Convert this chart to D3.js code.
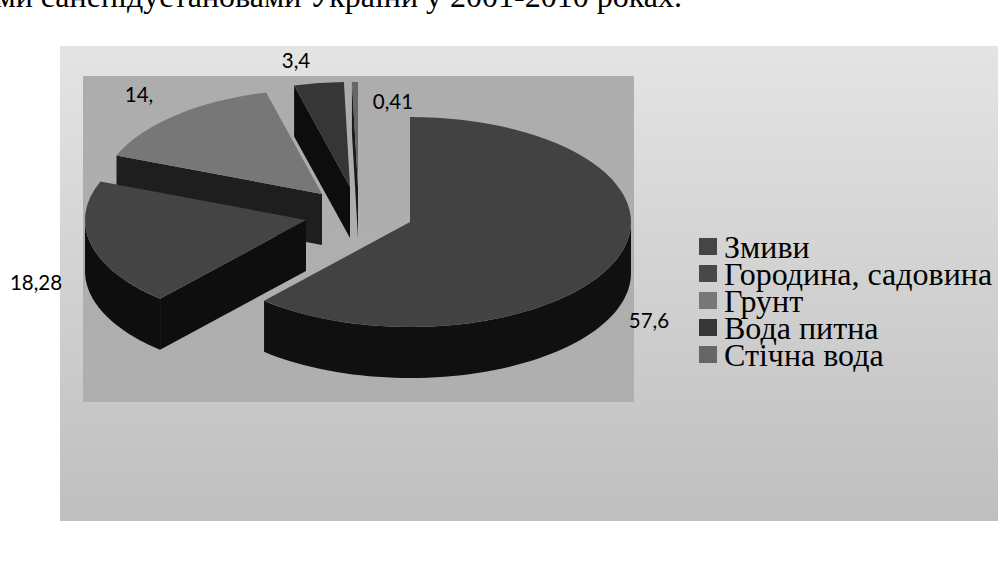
<!DOCTYPE html>
<html lang="uk">
<head>
<meta charset="utf-8">
<script src="https://cdn.jsdelivr.net/npm/d3@7/dist/d3.min.js"></script>
<style>
html,body{margin:0;padding:0;background:#fff}
svg{display:block}
</style>
</head>
<body>
<svg id="chart" width="998" height="572"></svg>
<script>
const categories = ["Змиви", "Городина, садовина", "Грунт", "Вода питна", "Стічна вода"];
const values = [57.6, 18.28, 14, 3.4, 0.41];
const valueLabels = ["57,6", "18,28", "14,", "3,4", "0,41"];

const topColors = ["#424242", "#444444", "#777777", "#363636", "#666666"];
const wallColors = ["#101010", "#0e0e0e", "#1e1e1e", "#0d0d0d", "#1a1a1a"];
const legendColors = ["#454545", "#484848", "#777777", "#363636", "#666666"];

// Where each exploded wedge's apex sits on the page
const apexX = [410, 306, 322, 350, 358];
const apexY = [222, 220, 194, 187, 187];
const labelX = [649, 36, 139, 296, 393];
const labelY = [320, 282, 94, 60, 101];

const RX = 221, RY = 105, DEPTH = 51;
const TAU = Math.PI * 2;

const svg = d3.select("#chart");
const defs = svg.append("defs");

function verticalGradient(id, from, to) {
  const g = defs.append("linearGradient").attr("id", id)
    .attr("x1", 0).attr("y1", 0).attr("x2", 0).attr("y2", 1);
  g.append("stop").attr("offset", 0).attr("stop-color", from);
  g.append("stop").attr("offset", 1).attr("stop-color", to);
}
verticalGradient("chartBg", "#e4e4e4", "#bfbfbf");
verticalGradient("plotBg", "#adadad", "#afafaf");

// Caption line running above the chart
svg.append("text")
  .attr("x", 682).attr("y", 7)
  .attr("text-anchor", "end")
  .attr("font-family", "'Liberation Serif', serif")
  .attr("font-size", 32)
  .attr("fill", "#000")
  .text("ми санепідустановами України у 2001-2010 роках.");

svg.append("rect").attr("x", 60).attr("y", 46).attr("width", 938).attr("height", 475).attr("fill", "url(#chartBg)");
svg.append("rect").attr("x", 83).attr("y", 76).attr("width", 551).attr("height", 326).attr("fill", "url(#plotBg)");

const slices = d3.pie().sort(null).startAngle(0).endAngle(TAU)(values);
const arc = d3.arc().innerRadius(0).outerRadius(RX);

// Points on the elliptical rim of a wedge, for an angle measured clockwise from the top
const rim = (i, a, drop) => [
  apexX[i] + RX * Math.sin(a),
  apexY[i] - RY * Math.cos(a) + drop
];
const polygon = d3.line().curve(d3.curveLinearClosed);

function outerWall(i, a0, a1) {
  const lo = Math.max(a0, Math.PI / 2), hi = Math.min(a1, Math.PI * 3 / 2);
  if (hi <= lo) return null;
  const steps = d3.range(0, 61).map(k => lo + (hi - lo) * k / 60);
  return polygon([
    ...steps.map(a => rim(i, a, 0)),
    ...steps.slice().reverse().map(a => rim(i, a, DEPTH))
  ]);
}

function cutWall(i, a) {
  const [ex, ey] = rim(i, a, 0);
  return polygon([[apexX[i], apexY[i]], [ex, ey], [ex, ey + DEPTH], [apexX[i], apexY[i] + DEPTH]]);
}

// Back wedges first so the nearer ones overlap them
const pieLayer = svg.append("g");
[4, 3, 2, 1, 0].forEach(i => {
  const s = slices[i];
  const g = pieLayer.append("g");
  // The first wedge's cut faces look away from the viewer
  if (i !== 0) {
    g.append("path").attr("d", cutWall(i, s.startAngle)).attr("fill", wallColors[i]);
  }
  const wall = outerWall(i, s.startAngle, s.endAngle);
  if (wall) g.append("path").attr("d", wall).attr("fill", wallColors[i]);
  g.append("path")
    .attr("transform", `translate(${apexX[i]},${apexY[i]}) scale(1,${RY / RX})`)
    .attr("d", arc(s))
    .attr("fill", topColors[i]);
});

// Value labels
svg.append("g").selectAll("text").data(valueLabels).join("text")
  .attr("x", (d, i) => labelX[i])
  .attr("y", (d, i) => labelY[i])
  .attr("text-anchor", "middle")
  .attr("dominant-baseline", "central")
  .attr("font-family", "Lato, sans-serif")
  .attr("font-size", 20.5)
  .attr("fill", "#000")
  .text(d => d);

// Legend: tight rows, with the large serif labels nearly touching
const legendY = d3.scalePoint().domain(categories).range([246.5, 354.5]);
const legend = svg.append("g").selectAll("g").data(categories).join("g")
  .attr("transform", d => `translate(699,${legendY(d)})`);
legend.append("rect")
  .attr("x", 0).attr("y", -8.5).attr("width", 18).attr("height", 17)
  .attr("fill", (d, i) => legendColors[i]);
legend.append("text")
  .attr("x", 25).attr("y", 11.5)
  .attr("font-family", "'Liberation Serif', serif")
  .attr("font-size", 32)
  .attr("fill", "#000")
  .text(d => d);
</script>
</body>
</html>
